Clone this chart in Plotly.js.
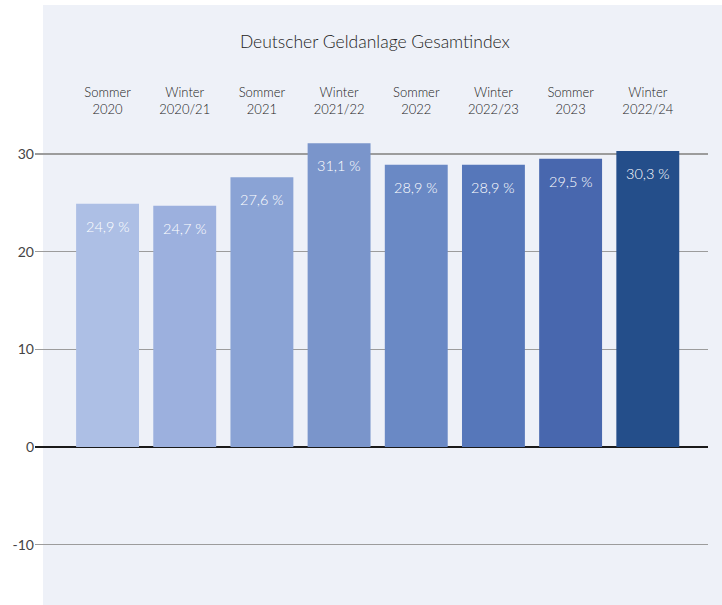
<!DOCTYPE html>
<html>
<head>
<meta charset="utf-8">
<script src="https://cdn.plot.ly/plotly-3.0.1.min.js"></script>
<style>html,body{margin:0;padding:0;background:#fff;}#chart{width:722px;height:605px;}</style>
</head>
<body>
<div id="chart"></div>
<script>
const categories = ["Sommer<br>2020","Winter<br>2020/21","Sommer<br>2021","Winter<br>2021/22","Sommer<br>2022","Winter<br>2022/23","Sommer<br>2023","Winter<br>2022/24"];
const values = [24.9, 24.7, 27.6, 31.1, 28.9, 28.9, 29.5, 30.3];
const valueLabels = ["24,9 %","24,7 %","27,6 %","31,1 %","28,9 %","28,9 %","29,5 %","30,3 %"];
const barColors = ["#adbfe5","#9cb0de","#8aa3d5","#7a95cb","#6a89c5","#5677ba","#4867ae","#244e8a"];
const yTicks = [-10, 0, 10, 20, 30];
const chartTitle = "Deutscher Geldanlage Gesamtindex";

const idx = categories.map((_, i) => i);
const FONT = "Lato, sans-serif";

const trace = {
  type: "bar",
  x: idx,
  y: values,
  marker: {color: barColors, line: {width: 0}},
  hoverinfo: "skip"
};

const annotations = idx.map(i => ({
  x: i, y: values[i], xref: "x", yref: "y",
  text: valueLabels[i], showarrow: false,
  yanchor: "top", yshift: -12,
  font: {family: FONT, size: 14.5, color: "#ffffff", weight: 300}
}));

const layout = {
  width: 722, height: 605,
  margin: {l: 35, r: 14, t: 125, b: 2, pad: 0},
  paper_bgcolor: "#ffffff",
  plot_bgcolor: "rgba(0,0,0,0)",
  font: {family: FONT, color: "#333"},
  showlegend: false,
  bargap: 0.185,
  title: {
    text: chartTitle,
    font: {family: FONT, size: 17.5, color: "#222", weight: 300},
    xref: "paper", x: 0.505, xanchor: "center",
    yref: "container", y: 0.93, yanchor: "middle"
  },
  xaxis: {
    side: "top",
    range: [-0.94, 7.78],
    tickmode: "array",
    tickvals: idx,
    ticktext: categories,
    ticks: "",
    showgrid: false,
    zeroline: false,
    showline: false,
    tickfont: {family: FONT, size: 13, color: "#222", weight: 300},
    ticklabelstandoff: 7,
    fixedrange: true
  },
  yaxis: {
    range: [-15.97, 32.96],
    tickmode: "array",
    tickvals: yTicks,
    ticktext: yTicks.map(String),
    showgrid: true,
    gridcolor: "#9c9c9c",
    gridwidth: 1.5,
    zeroline: true,
    zerolinecolor: "#1a1a1a",
    zerolinewidth: 2,
    showline: false,
    ticks: "",
    tickfont: {family: FONT, size: 14, color: "#444", weight: 400},
    fixedrange: true
  },
  shapes: [{
    type: "rect", xref: "paper", yref: "paper",
    x0: 0.0119, x1: 1.03, y0: -0.01, y1: 1.251,
    fillcolor: "#eef1f8", line: {width: 0}, layer: "below"
  }],
  annotations: annotations
};

Plotly.newPlot("chart", [trace], layout, {displayModeBar: false, staticPlot: true});
</script>
</body>
</html>
